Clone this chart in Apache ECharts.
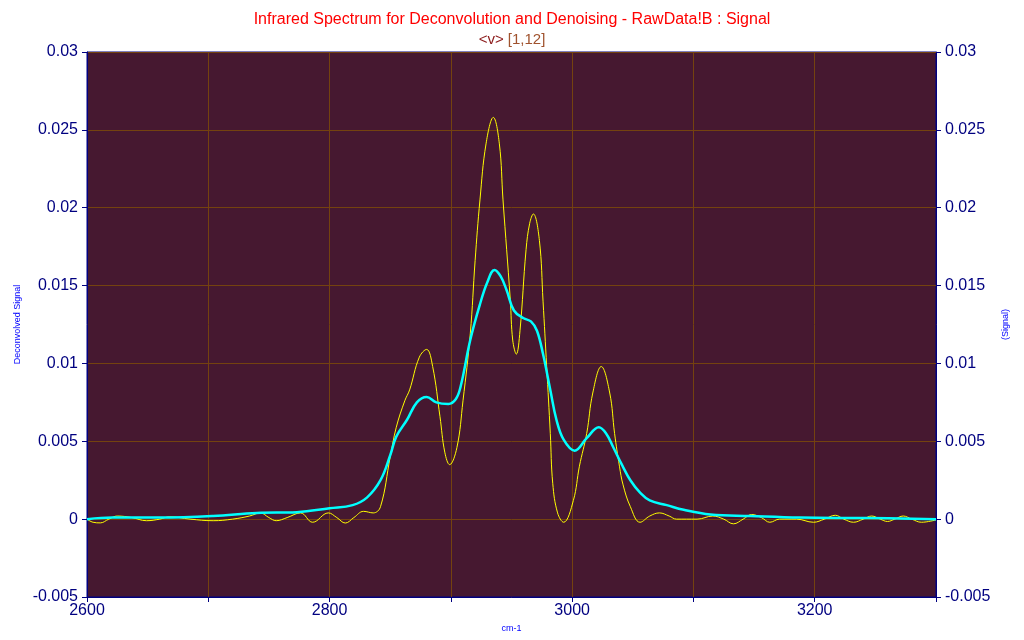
<!DOCTYPE html>
<html><head><meta charset="utf-8">
<script src="https://cdn.jsdelivr.net/npm/echarts@6/dist/echarts.min.js"></script>
<style>html,body{margin:0;padding:0;background:#fff}#c{width:1024px;height:640px}</style>
</head><body><div id="c"></div>
<script>
const titleText = 'Infrared Spectrum for Deconvolution and Denoising - RawData!B : Signal';
const xTickLabels = ['2600', '2800', '3000', '3200'];
const yTickLabels = ['-0.005', '0', '0.005', '0.01', '0.015', '0.02', '0.025', '0.03'];

const signalX = [2600,2605,2611,2618,2625,2637,2649,2660,2668,2685,2704,2720,2734,2743,2750,2756,2765,2776,2786,2799,2806,2813,2820,2828,2836,2842,2850,2855,2862,2866,2874,2880,2885,2891,2895,2899,2905,2910,2916,2920,2924,2929,2935,2940,2943,2949,2951,2954,2957,2962,2965,2968,2973,2976,2979,2982,2984,2988,2993,3001,3006,3012,3017,3024,3031,3035,3039,3042,3048,3056,3064,3072,3080,3086,3103,3116,3125,3133,3141,3148,3156,3163,3171,3185,3199,3208,3217,3224,3232,3240,3247,3254,3260,3266,3273,3280,3288,3300];
const signalY = [0,-0.0002,-0.00024,0,0.0002,0.0001,-0.0001,0,0.00015,0,-0.0001,0,0.0002,0.0004,0.0001,-0.0001,0.0001,0.0004,-0.0002,0.0004,0.0001,-0.00025,0.0001,0.0005,0.0004,0.0008,0.0040,0.0059,0.0076,0.0083,0.0104,0.0109,0.0098,0.0066,0.0043,0.0035,0.0046,0.0076,0.0119,0.0166,0.0205,0.0241,0.0258,0.0241,0.0205,0.0141,0.0115,0.0106,0.0121,0.0173,0.0190,0.0196,0.0179,0.0140,0.0098,0.0055,0.0023,0.0004,-0.0002,0.0012,0.0034,0.0055,0.0081,0.0098,0.0081,0.0055,0.0034,0.0022,0.0008,-0.0002,0.0002,0.0004,0.0002,0,0,0.0002,0,-0.0003,0,0.0003,0.0001,-0.0002,0,0,-0.0002,0,0.00025,0,-0.0002,0,0.0002,0,-0.00015,0,0.0002,0,-0.0002,-0.00005];

const deconvX = [2600,2621,2660,2704,2740,2773,2800,2819,2831,2842,2850,2855,2864,2872,2880,2888,2898,2904,2908,2916,2924,2930,2936,2941,2946,2952,2960,2966,2971,2976,2982,2987,2993,3002,3012,3022,3028,3034,3041,3048,3056,3064,3078,3092,3114,3147,3188,3242,3300];
const deconvY = [0,0.0001,0.0001,0.0002,0.0004,0.00045,0.0007,0.0009,0.0014,0.0025,0.0041,0.0053,0.0064,0.0075,0.00785,0.0075,0.0074,0.0077,0.0085,0.0115,0.0138,0.0152,0.0160,0.0156,0.0147,0.0134,0.0129,0.0127,0.0121,0.0106,0.0083,0.0064,0.0051,0.0044,0.0052,0.0059,0.0055,0.0046,0.0035,0.0025,0.0017,0.0012,0.0009,0.0006,0.0003,0.0002,0.0001,0.00007,0];

const NAVY = '#000080';
const GRIDC = '#74420f';
const FONT = 'Liberation Sans';
const chart = echarts.init(document.getElementById('c'));
const pairs = (xs, ys) => xs.map((x, i) => [x, ys[i]]);
function yAxisCfg(name, pos) {
  return {
    type: 'value', position: pos, min: -0.005, max: 0.03, interval: 0.005,
    name: name, nameLocation: 'middle', nameRotate: 90, nameGap: pos === 'left' ? 58 : 61,
    nameTextStyle: { color: '#0000ff', fontSize: 9, fontFamily: FONT },
    axisLine: { show: true, onZero: false, lineStyle: { color: NAVY } },
    axisTick: { show: true, length: 5, lineStyle: { color: NAVY } },
    axisLabel: { color: NAVY, fontSize: 16, fontFamily: FONT, margin: 9,
      formatter: v => { const s = yTickLabels.find(t => Math.abs(parseFloat(t) - v) < 1e-9); return s !== undefined ? s : ''; } },
    splitLine: { show: pos === 'left', lineStyle: { color: GRIDC, width: 1 } }
  };
}
chart.setOption({
  animation: false,
  backgroundColor: '#ffffff',
  title: {
    text: titleText,
    subtext: '{a|<v>} {b|[1,12]}',
    left: 'center', top: 7, itemGap: 4,
    textStyle: { color: '#ff0000', fontSize: 16, fontWeight: 'normal', fontFamily: FONT },
    subtextStyle: { fontSize: 15, fontFamily: FONT,
      rich: { a: { color: '#8b1a1a', fontSize: 15, fontFamily: FONT }, b: { color: '#a0522d', fontSize: 15, fontFamily: FONT } } }
  },
  grid: { left: 87, right: 88, top: 52, bottom: 43, show: true, backgroundColor: '#461830', borderColor: NAVY, borderWidth: 1 },
  xAxis: {
    type: 'value', min: 2600, max: 3300, interval: 100,
    name: 'cm-1', nameLocation: 'middle', nameGap: 27,
    nameTextStyle: { color: '#0000ff', fontSize: 9, fontFamily: FONT },
    axisLine: { show: true, onZero: false, lineStyle: { color: NAVY } },
    axisTick: { show: true, length: 5, lineStyle: { color: NAVY } },
    axisLabel: { color: NAVY, fontSize: 16, fontFamily: FONT, margin: 6,
      formatter: v => { const s = String(Math.round(v)); return xTickLabels.includes(s) ? s : ''; } },
    splitLine: { show: true, lineStyle: { color: GRIDC, width: 1 } }
  },
  yAxis: [yAxisCfg('Deconvolved Signal', 'left'), yAxisCfg('(Signal)', 'right')],
  series: [
    { type: 'line', name: 'Signal', yAxisIndex: 1, data: pairs(signalX, signalY), smooth: 0.4, showSymbol: false,
      lineStyle: { color: '#ffff00', width: 1 }, z: 2 },
    { type: 'line', name: 'Deconvolved', yAxisIndex: 0, data: pairs(deconvX, deconvY), smooth: 0.4, showSymbol: false,
      lineStyle: { color: '#00ffff', width: 2.5 }, z: 3 }
  ]
});
</script></body></html>
